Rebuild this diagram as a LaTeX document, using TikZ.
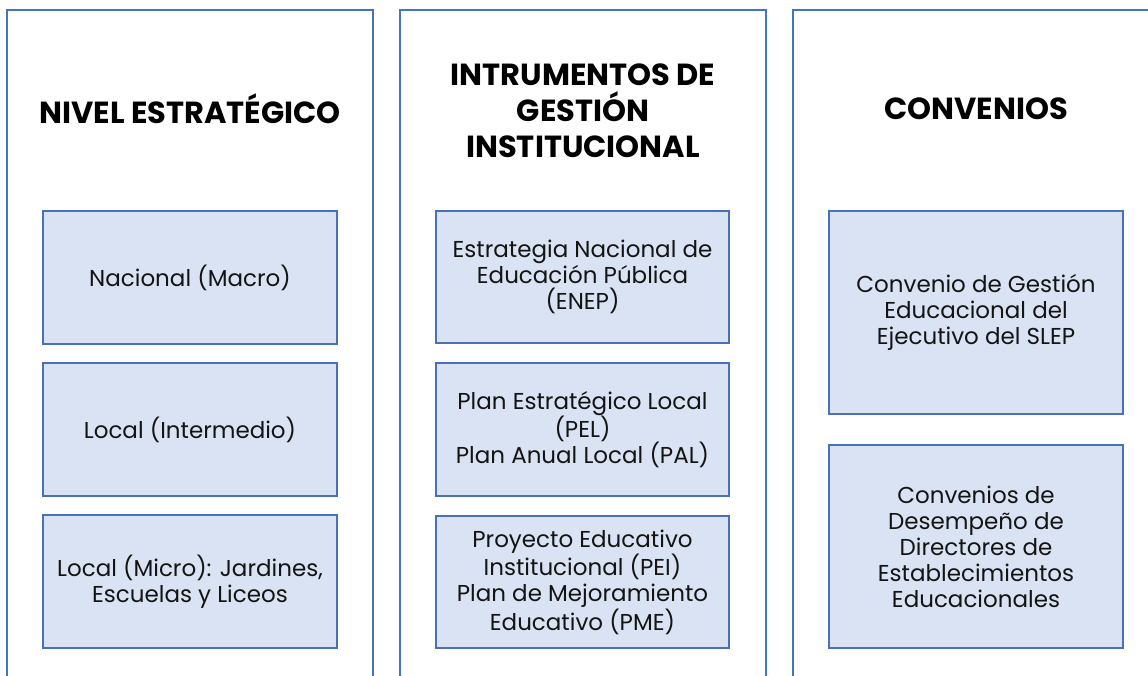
\documentclass[tikz,border=0pt]{standalone}
\usepackage{fontspec}
\setmainfont{Poppins}
\definecolor{frameblue}{HTML}{4472C4}
\definecolor{boxfill}{HTML}{DAE3F3}
\definecolor{boxline}{HTML}{4A70B8}
\definecolor{txt}{HTML}{141414}
\begin{document}
\begin{tikzpicture}[x=1pt,y=-1pt,
  framestyle/.style={draw=frameblue,line width=1.6pt},
  itembox/.style={draw=boxline,fill=boxfill,line width=2.6pt,align=center,
    inner sep=0pt,font=\fontsize{23}{26}\selectfont,text=txt},
  coltitle/.style={align=center,font=\fontsize{30.5}{36}\selectfont\bfseries,text=black}]
\useasboundingbox (0,0) rectangle (1148,675);
\fill[white] (0,0) rectangle (1148,675);
\begin{scope}
\clip (0,0) rectangle (1148,675);
\draw[framestyle] (7,690) -- (7,10) -- (373,10) -- (373,690);
\draw[framestyle] (400,690) -- (400,10) -- (766,10) -- (766,690);
\draw[framestyle] (793,690) -- (793,10) -- (1160,10) -- (1160,690);
\end{scope}
% titles
\node[coltitle] (t1) at (190,109) {NIVEL ESTRATÉGICO};
\node[coltitle] (t2) at (583,111) {INTRUMENTOS DE\\GESTIÓN\\INSTITUCIONAL};
\node[coltitle] (t3) at (976,109) {CONVENIOS};
% left column
\node[itembox,minimum width=294pt,minimum height=133pt] (a1) at (190,277.5) {Nacional (Macro)};
\node[itembox,minimum width=294pt,minimum height=133pt] (a2) at (190,429.5) {Local (Intermedio)};
\node[itembox,minimum width=294pt,minimum height=133pt] (a3) at (190,581.5) {Local (Micro): Jardines,\\Escuelas y Liceos};
% middle column
\node[itembox,minimum width=293pt,minimum height=132pt] (b1) at (582.5,277) {Estrategia Nacional de\\Educación Pública\\(ENEP)};
\node[itembox,minimum width=293pt,minimum height=133pt] (b2) at (582.5,429.5) {Plan Estratégico Local\\(PEL)\\Plan Anual Local (PAL)};
\node[itembox,minimum width=293pt,minimum height=132pt] (b3) at (582.5,582) {Proyecto Educativo\\Institucional (PEI)\\Plan de Mejoramiento\\Educativo (PME)};
% right column
\node[itembox,minimum width=294pt,minimum height=203pt] (c1) at (976,312.5) {Convenio de Gestión\\Educacional del\\Ejecutivo del SLEP};
\node[itembox,minimum width=294pt,minimum height=203pt] (c2) at (976,546.5) {Convenios de\\Desempeño de\\Directores de\\Establecimientos\\Educacionales};
\end{tikzpicture}
\end{document}
